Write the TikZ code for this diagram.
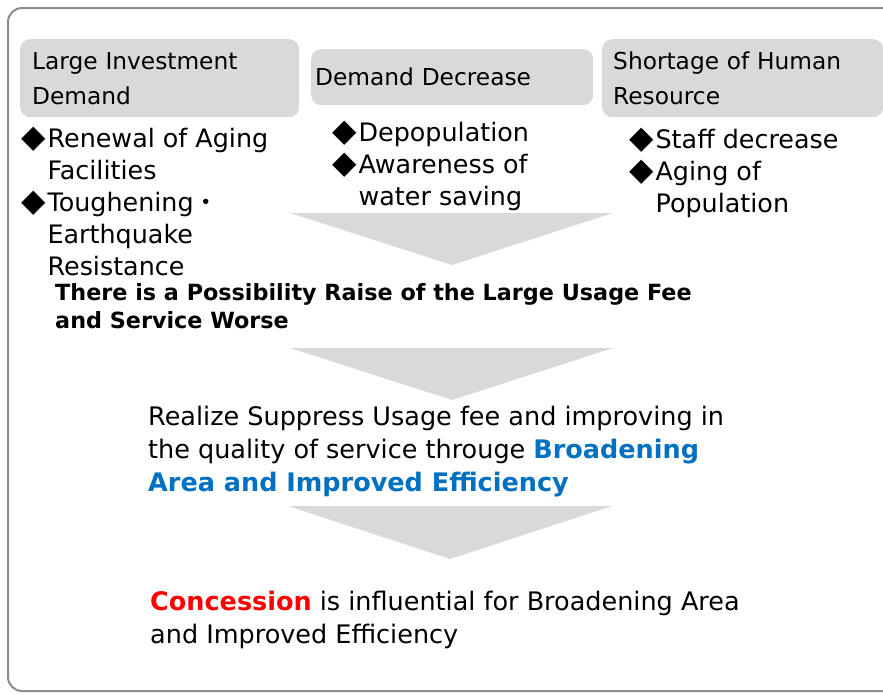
\documentclass[tikz,border=0pt]{standalone}
\usepackage{fontspec}
\setmainfont{DejaVu Sans}
\newfontfamily\cjk{Noto Sans CJK JP}
\usepackage{xcolor}
\usepackage{graphicx}
\usetikzlibrary{positioning}

\definecolor{boxgray}{HTML}{D9D9D9}
\definecolor{framegray}{HTML}{8C8C8C}
\definecolor{effblue}{HTML}{0070C0}
\definecolor{conred}{HTML}{FF0000}

\newcommand{\dia}{\makebox[1em][r]{\scalebox{1.25}{◆}\hspace{2pt}}}
\newcommand{\hang}{\hspace*{1em}}

\begin{document}
\begin{tikzpicture}[x=1pt, y=-1pt,
  hdrbox/.style={fill=boxgray, rounded corners=10pt, anchor=north west, align=left,
    font=\fontsize{23.3}{35}\selectfont},
  bullist/.style={anchor=base west, inner sep=0pt, align=left,
    font=\fontsize{25.4}{32}\selectfont},
  bodytext/.style={anchor=base west, inner sep=0pt, align=left,
    font=\fontsize{25.5}{33}\selectfont},
  downtri/.style={fill=boxgray}]
  \useasboundingbox (0,0) rectangle (883,694);
  \draw[framegray, line width=2pt, rounded corners=14pt] (8,8) rectangle (900,691);

  % three causes (base of a list = its last line)
  \node[hdrbox, minimum width=279pt, minimum height=78pt, text width=255pt, inner xsep=12pt] (invest) at (20,39) {Large Investment\\Demand};
  \node[hdrbox, minimum width=282pt, minimum height=56pt, text width=274pt, inner xsep=4pt] (demand) at (311,49) {Demand Decrease};
  \node[hdrbox, minimum width=281pt, minimum height=78pt, text width=259pt, inner xsep=11pt] (human) at (602,39) {Shortage of Human\\Resource};

  \node[bullist] (aging) at (22,275) {\dia Renewal of Aging\\\hang Facilities\\\dia Toughening{\cjk ・}\\\hang Earthquake\\\hang Resistance};
  \node[bullist] (depop) at (333,205) {\dia Depopulation\\\dia Awareness of\\\hang water saving};
  \node[bullist] (staff) at (630,212) {\dia Staff decrease\\\dia Aging of\\\hang Population};

  % flow downwards
  \fill[downtri] (290,213) -- (613,213) -- (452,265) -- cycle;
  \node[anchor=base west, inner sep=0pt, align=left, font=\bfseries\fontsize{22.3}{28}\selectfont] (raise) at (55,328) {There is a Possibility Raise of the Large Usage Fee\\and Service Worse};

  \fill[downtri] (290,348) -- (613,348) -- (452,400) -- cycle;
  \node[bodytext] (realize) at (148,491) {Realize Suppress Usage fee and improving in\\the quality of service througe {\color{effblue}\bfseries Broadening}\\{\color{effblue}\bfseries Area and Improved Efficiency}};

  \fill[downtri] (288,506) -- (612,506) -- (450,559) -- cycle;
  \node[bodytext] (concess) at (150,643) {{\color{conred}\bfseries Concession} is influential for Broadening Area\\and Improved Efficiency};
\end{tikzpicture}
\end{document}
